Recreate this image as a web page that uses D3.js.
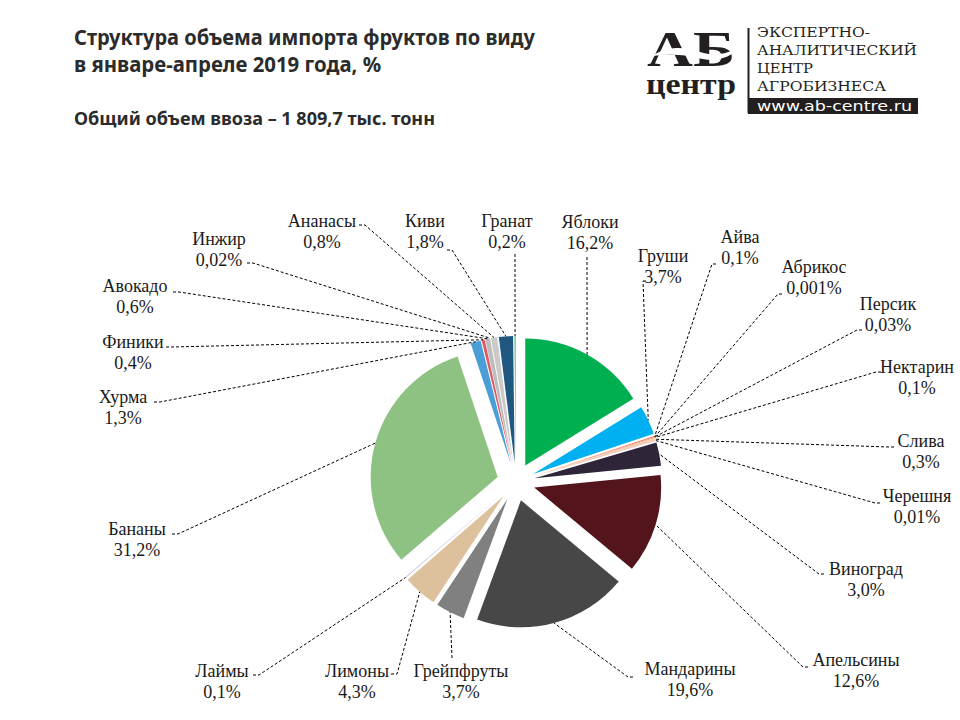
<!DOCTYPE html>
<html>
<head>
<meta charset="utf-8">
<script src="https://cdn.jsdelivr.net/npm/d3@7"></script>
<style>
  body { margin: 0; background: #fff; }
  .label text { font-family: "Liberation Serif", "DejaVu Serif", serif; }
</style>
</head>
<body>
<div id="chart-area"></div>
<script>
// data: fruits in slice order, clockwise from 12 o'clock
var fruits = ["Яблоки", "Груши", "Айва", "Абрикос", "Персик", "Нектарин", "Слива", "Черешня",
              "Виноград", "Апельсины", "Мандарины", "Грейпфруты", "Лимоны", "Лаймы", "Бананы",
              "Хурма", "Финики", "Авокадо", "Инжир", "Ананасы", "Киви", "Гранат"];
var shares = [16.2, 3.7, 0.1, 0.001, 0.03, 0.1, 0.3, 0.01,
              3.0, 12.6, 19.6, 3.7, 4.3, 0.1, 31.2,
              1.3, 0.4, 0.6, 0.02, 0.8, 1.8, 0.2];
var shareLabels = ["16,2%", "3,7%", "0,1%", "0,001%", "0,03%", "0,1%", "0,3%", "0,01%",
                   "3,0%", "12,6%", "19,6%", "3,7%", "4,3%", "0,1%", "31,2%",
                   "1,3%", "0,4%", "0,6%", "0,02%", "0,8%", "1,8%", "0,2%"];
var colors = ["#00b050", "#00b0f0", "#e2573f", "#f08a5d", "#f3a983", "#e9967a", "#f6ccaa", "#c9a0dc",
              "#2f2539", "#53151b", "#474747", "#808080", "#dcc19c", "#b8a9d9", "#8ec283",
              "#4a9fd6", "#e05a66", "#bdbdbd", "#dedede", "#cacaca", "#1f5780", "#7cc7a3"];

// label layout: text centre x, first baseline y, leader start (ax, ay) and elbow (ex, ey)
var labelPos = [
  [590, 228, 587, 257, 587, 257],
  [663, 262, 645, 281, 643, 281],
  [740, 243, 716, 264, 712, 264],
  [814, 273, 782, 294, 778, 294],
  [888, 310, 862, 330, 857, 330],
  [917, 373, 881, 372, 876, 372],
  [921, 447, 894, 447, 889, 447],
  [917, 502, 880, 503, 875, 503],
  [866, 575, 824, 574, 819, 574],
  [856, 666, 808, 667, 803, 667],
  [690, 675, 633, 677, 628, 677],
  [461, 677, 452, 658, 452, 658],
  [357, 677, 391, 674, 397, 674],
  [222, 677, 253, 675, 259, 675],
  [137, 535, 172, 534, 178, 534],
  [123, 403, 154, 402, 160, 402],
  [133, 348, 166, 347, 172, 347],
  [135, 292, 173, 292, 179, 292],
  [219, 245, 247, 263, 253, 263],
  [322, 227, 359, 225, 365, 225],
  [425, 227, 447, 250, 452, 250],
  [507, 227, 515, 254, 515, 254]
];

var width = 960, height = 720;
var cx = 516, cy = 482, radius = 127, explode = 19;
var serif = "Liberation Serif";

var svg = d3.select("#chart-area")
  .append("svg")
    .attr("width", width)
    .attr("height", height);

// titles
var title = svg.append("g")
  .attr("font-weight", "bold")
  .attr("fill", "#2b2b2b");
title.append("text").attr("x", 74).attr("y", 45)
  .style("font-family", "'Noto Sans', sans-serif")
  .attr("font-size", "21px").attr("textLength", 461).attr("lengthAdjust", "spacingAndGlyphs")
  .text("Структура объема импорта фруктов по виду");
title.append("text").attr("x", 74).attr("y", 72)
  .style("font-family", "'Noto Sans', sans-serif")
  .attr("font-size", "21px").attr("textLength", 307).attr("lengthAdjust", "spacingAndGlyphs")
  .text("в январе-апреле 2019 года, %");
title.append("text").attr("x", 74).attr("y", 125)
  .style("font-family", "'Noto Sans', sans-serif")
  .attr("font-size", "17px").attr("textLength", 361).attr("lengthAdjust", "spacingAndGlyphs")
  .text("Общий объем ввоза – 1 809,7 тыс. тонн");

// logo
var logo = svg.append("g").attr("fill", "#231f20");
logo.append("text").attr("x", 647).attr("y", 66)
  .attr("font-family", serif)
  .attr("font-size", "50px").attr("font-weight", "bold")
  .attr("textLength", 88).attr("lengthAdjust", "spacingAndGlyphs")
  .text("АБ");
logo.append("path")
  .attr("d", "M652,56 C670,44 688,48 700,52 C715,57 728,54 740,46 C730,60 712,62 698,58 C684,54 668,54 652,56 Z")
  .attr("fill", "#fff");
logo.append("text").attr("x", 646).attr("y", 94)
  .attr("font-family", serif)
  .attr("font-size", "30px").attr("font-weight", "bold")
  .attr("textLength", 90).attr("lengthAdjust", "spacingAndGlyphs")
  .text("центр");
logo.append("line")
  .attr("x1", 748.5).attr("x2", 748.5).attr("y1", 28).attr("y2", 113)
  .attr("stroke", "#231f20").attr("stroke-width", 2);
var logoLines = [["ЭКСПЕРТНО-", 37, 113], ["АНАЛИТИЧЕСКИЙ", 55, 160], ["ЦЕНТР", 73, 56], ["АГРОБИЗНЕСА", 91, 129]];
logoLines.forEach(function(l) {
  logo.append("text").attr("x", 757).attr("y", l[1])
    .attr("font-family", "DejaVu Serif")
    .attr("font-size", "13px")
    .attr("textLength", l[2]).attr("lengthAdjust", "spacingAndGlyphs")
    .text(l[0]);
});
logo.append("rect").attr("x", 748).attr("y", 98).attr("width", 170).attr("height", 16);
logo.append("text").attr("x", 757).attr("y", 111)
  .attr("font-family", "DejaVu Sans")
  .attr("font-size", "14px").attr("fill", "#fff")
  .attr("textLength", 155).attr("lengthAdjust", "spacingAndGlyphs")
  .text("www.ab-centre.ru");

// pie
var pie = d3.pie().sort(null).value(function(d) { return d; });
var arcs = pie(shares);
var arc = d3.arc().innerRadius(0).outerRadius(radius);
var shift = d3.arc().innerRadius(explode).outerRadius(explode);
var edge = d3.arc().innerRadius(radius + explode).outerRadius(radius + explode);

var g = svg.append("g")
  .attr("transform", "translate(" + cx + "," + cy + ")");

g.selectAll("path.slice")
  .data(arcs)
  .enter().append("path")
    .attr("class", "slice")
    .attr("d", arc)
    .attr("fill", function(d, i) { return colors[i]; })
    .attr("transform", function(d) {
      var c = shift.centroid(d);
      return "translate(" + c[0] + "," + c[1] + ")";
    });

// leader lines
g.selectAll("path.leader")
  .data(arcs)
  .enter().append("path")
    .attr("class", "leader")
    .attr("fill", "none")
    .attr("stroke", "#000")
    .attr("stroke-width", 1)
    .attr("stroke-dasharray", "3,2")
    .attr("d", function(d, i) {
      var p = labelPos[i];
      var e = edge.centroid(d);
      return "M" + (p[2] - cx) + "," + (p[3] - cy) +
             "L" + (p[4] - cx) + "," + (p[5] - cy) +
             "L" + e[0] + "," + e[1];
    });

// labels
var labels = svg.selectAll("g.label")
  .data(fruits)
  .enter().append("g")
    .attr("class", "label")
    .attr("fill", "#1a1a1a")
    .attr("text-anchor", "middle");
labels.append("text")
  .attr("font-family", serif)
  .attr("font-size", 18)
  .attr("x", function(d, i) { return labelPos[i][0]; })
  .attr("y", function(d, i) { return labelPos[i][1]; })
  .text(function(d) { return d; });
labels.append("text")
  .attr("font-family", serif)
  .attr("font-size", 18)
  .attr("x", function(d, i) { return labelPos[i][0]; })
  .attr("y", function(d, i) { return labelPos[i][1] + 21; })
  .text(function(d, i) { return shareLabels[i]; });
</script>
</body>
</html>
